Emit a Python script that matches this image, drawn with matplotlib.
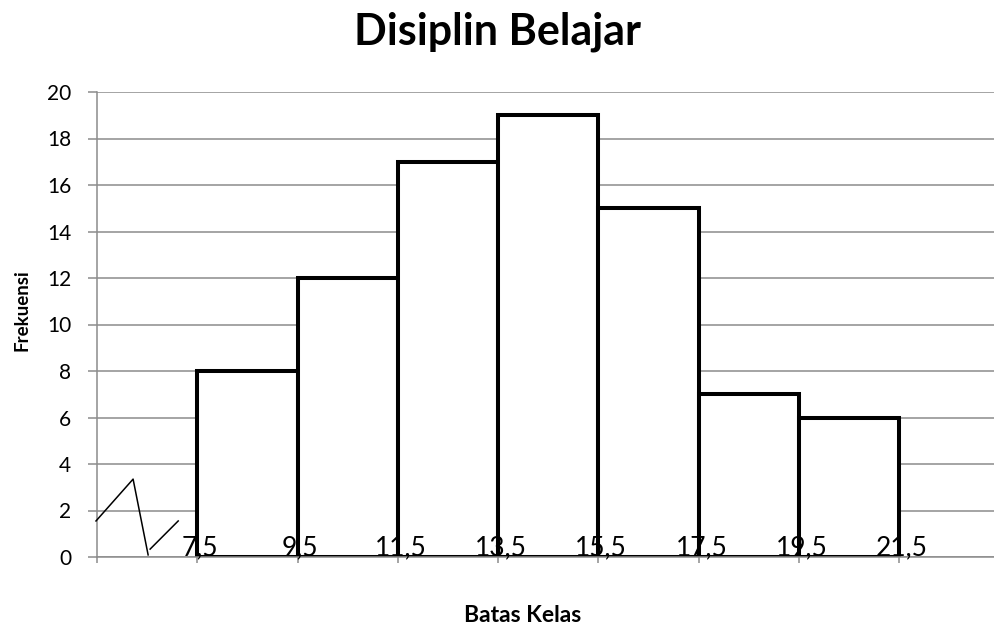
import numpy as np
import matplotlib.pyplot as plt

# class boundaries and frequencies
batas = [7.5, 9.5, 11.5, 13.5, 15.5, 17.5, 19.5, 21.5]
frekuensi = [8, 12, 17, 19, 15, 7, 6]
batas_label = ['7,5', '9,5', '11,5', '13,5', '15,5', '17,5', '19,5', '21,5']

# axis-break zigzag near the origin
break_a = [(5.48, 1.55), (6.22, 3.35), (6.52, 0.09)]
break_b = [(6.56, 0.34), (7.12, 1.55)]

plt.rcParams['font.family'] = ['Lato', 'DejaVu Sans']
grid_col = '#8c8c8c'

fig = plt.figure(figsize=(9.94, 6.28), dpi=100)
ax = fig.add_axes([97 / 994, 71 / 628, 897 / 994, 465 / 628])

widths = np.diff(batas)
ax.bar(batas[:-1], frekuensi, width=widths, align='edge',
       facecolor='white', edgecolor='black', linewidth=2.9, zorder=2)

ax.set_xlim(5.5, 5.5 + 897 / 50.125)
ax.set_ylim(0, 20)
ax.set_yticks(np.arange(0, 21, 2))
ax.set_xticks([5.5] + batas)
ax.set_xticklabels([])
ax.grid(axis='y', color=grid_col, linewidth=1.1)
ax.set_axisbelow(True)

for side in ['top', 'right']:
    ax.spines[side].set_visible(False)
for side in ['left', 'bottom']:
    ax.spines[side].set_color(grid_col)
    ax.spines[side].set_linewidth(1.1)

ax.tick_params(axis='y', length=6.5, width=1.1, color=grid_col, pad=12,
               labelsize=15)
ax.tick_params(axis='x', length=4.3, width=1.1, color=grid_col)

# boundary labels sit on the baseline, over the bars
for x, lab in zip(batas, batas_label):
    ax.annotate(lab, (x, 0), xytext=(2, 1.5), textcoords='offset points',
                ha='center', va='baseline', fontsize=19, zorder=3)

for pts in (break_a, break_b):
    xs, ys = zip(*pts)
    ax.plot(xs, ys, color='black', linewidth=1.1, clip_on=False, zorder=3)

fig.text(497 / 994, 1 - 44 / 628, 'Disiplin Belajar', ha='center',
         va='baseline', fontsize=31, fontweight='bold')
fig.text(22 / 994, 1 - 310 / 628, 'Frekuensi', rotation=90, ha='center',
         va='center', fontsize=13.5, fontweight='bold')
fig.text(523 / 994, 1 - 622 / 628, 'Batas Kelas', ha='center',
         va='baseline', fontsize=16.5, fontweight='bold')

fig.savefig('out.png', dpi=100)
